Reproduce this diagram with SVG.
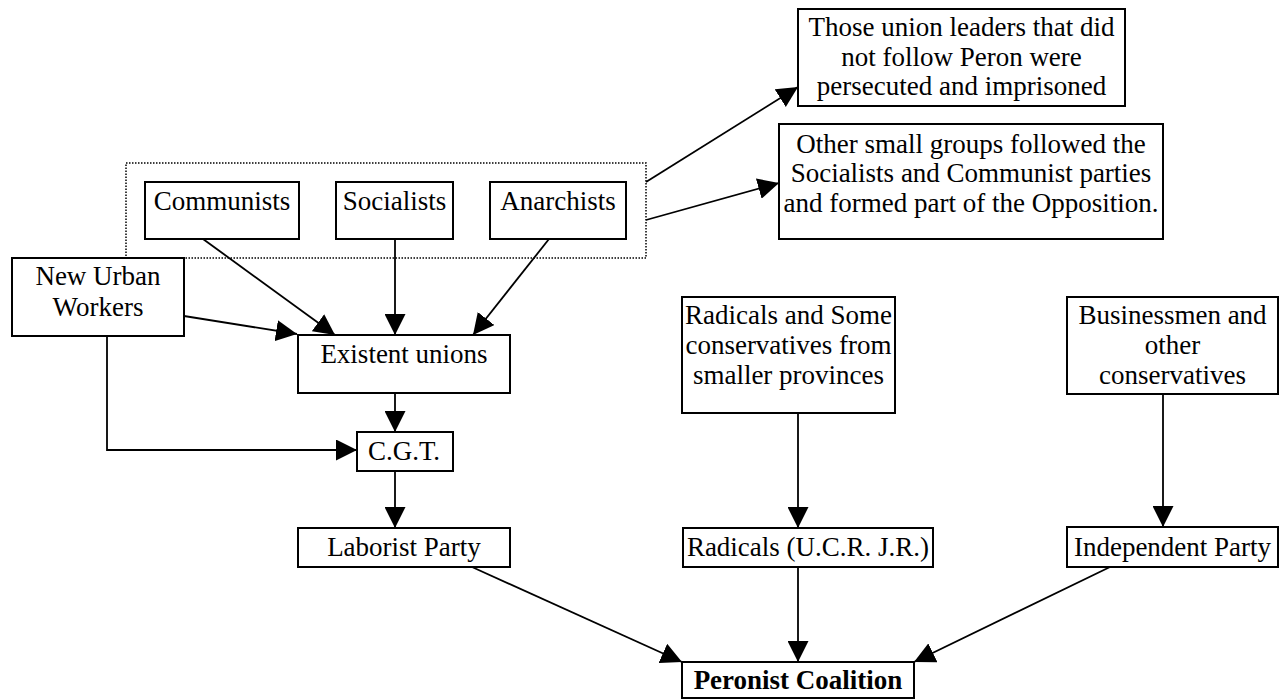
<svg xmlns="http://www.w3.org/2000/svg" width="1280" height="700" viewBox="0 0 1280 700">
<style>
.box{fill:#fff;stroke:#000;stroke-width:2}
.t{font-family:"Liberation Serif","Times New Roman",serif;font-size:27px;fill:#000;text-anchor:middle}
.b{font-weight:bold}
.c{fill:none;stroke:#000;stroke-width:1.8}
.dot{fill:none;stroke:#000;stroke-width:1.5;stroke-dasharray:1.5 1.5}
</style>
<defs>
<marker id="ah" markerUnits="userSpaceOnUse" markerWidth="21" markerHeight="21" refX="21" refY="10.5" orient="auto">
<path d="M0,0 L21,10.5 L0,21 Z" fill="#000"/>
</marker>
</defs>
<rect width="1280" height="700" fill="#fff"/>
<g id="group-left">
<rect class="dot" x="126" y="163" width="520" height="95"/>
</g>
<g id="connectors">
<line class="c" x1="646" y1="182" x2="798" y2="87" marker-end="url(#ah)"/>
<line class="c" x1="646" y1="220" x2="779" y2="183" marker-end="url(#ah)"/>
<line class="c" x1="203" y1="239" x2="335" y2="335" marker-end="url(#ah)"/>
<line class="c" x1="395" y1="239" x2="395" y2="335" marker-end="url(#ah)"/>
<line class="c" x1="549" y1="239" x2="473" y2="335" marker-end="url(#ah)"/>
<line class="c" x1="184" y1="316" x2="297" y2="334" marker-end="url(#ah)"/>
<line class="c" x1="395" y1="393" x2="395" y2="432" marker-end="url(#ah)"/>
<polyline class="c" points="107,336 107,450 357,450" marker-end="url(#ah)"/>
<line class="c" x1="395" y1="471" x2="395" y2="528" marker-end="url(#ah)"/>
<line class="c" x1="798" y1="413" x2="798" y2="528" marker-end="url(#ah)"/>
<line class="c" x1="1163" y1="394" x2="1163" y2="527" marker-end="url(#ah)"/>
<line class="c" x1="472" y1="567" x2="682" y2="662" marker-end="url(#ah)"/>
<line class="c" x1="798" y1="567" x2="798" y2="662" marker-end="url(#ah)"/>
<line class="c" x1="1110" y1="567" x2="914" y2="662" marker-end="url(#ah)"/>
</g>
<g id="leaders-persecuted">
<rect class="box" x="798" y="9" width="327" height="97"/>
<text class="t" x="961.5" y="36">Those union leaders that did</text>
<text class="t" x="961.5" y="66">not follow Peron were</text>
<text class="t" x="961.5" y="95">persecuted and imprisoned</text>
</g>
<g id="small-groups">
<rect class="box" x="779" y="124" width="384" height="115"/>
<text class="t" x="971" y="153">Other small groups followed the</text>
<text class="t" x="971" y="182">Socialists and Communist parties</text>
<text class="t" x="971" y="212">and formed part of the Opposition.</text>
</g>
<g id="communists">
<rect class="box" x="145" y="182" width="154" height="57"/>
<text class="t" x="222" y="210">Communists</text>
</g>
<g id="socialists">
<rect class="box" x="336" y="182" width="117" height="57"/>
<text class="t" x="394.5" y="210">Socialists</text>
</g>
<g id="anarchists">
<rect class="box" x="490" y="182" width="136" height="57"/>
<text class="t" x="558" y="210">Anarchists</text>
</g>
<g id="new-urban-workers">
<rect class="box" x="12" y="258" width="172" height="78"/>
<text class="t" x="98" y="285">New Urban</text>
<text class="t" x="98" y="316">Workers</text>
</g>
<g id="existent-unions">
<rect class="box" x="298" y="335" width="212" height="58"/>
<text class="t" x="404" y="363">Existent unions</text>
</g>
<g id="cgt">
<rect class="box" x="357" y="432" width="96" height="39"/>
<text class="t" x="404" y="460">C.G.T.</text>
</g>
<g id="laborist-party">
<rect class="box" x="298" y="528" width="212" height="39"/>
<text class="t" x="404" y="556">Laborist Party</text>
</g>
<g id="radicals-some-conservatives">
<rect class="box" x="682" y="297" width="213" height="116"/>
<text class="t" x="788.5" y="324">Radicals and Some</text>
<text class="t" x="788.5" y="354">conservatives from</text>
<text class="t" x="788.5" y="384">smaller provinces</text>
</g>
<g id="businessmen">
<rect class="box" x="1067" y="297" width="211" height="97"/>
<text class="t" x="1172.5" y="324">Businessmen and</text>
<text class="t" x="1172.5" y="354">other</text>
<text class="t" x="1172.5" y="384">conservatives</text>
</g>
<g id="radicals-ucr">
<rect class="box" x="683" y="528" width="250" height="39"/>
<text class="t" x="808" y="556">Radicals (U.C.R. J.R.)</text>
</g>
<g id="independent-party">
<rect class="box" x="1067" y="527" width="211" height="40"/>
<text class="t" x="1172.5" y="556">Independent Party</text>
</g>
<g id="peronist-coalition">
<rect class="box" x="682" y="662" width="232" height="36"/>
<text class="t b" x="798" y="689">Peronist Coalition</text>
</g>
</svg>
